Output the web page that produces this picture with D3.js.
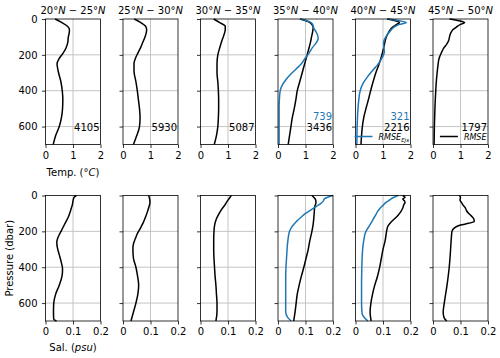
<!DOCTYPE html>
<meta charset="utf-8">
<style>
body { margin:0; background:#fff; }
svg { font-family: "DejaVu Sans", sans-serif; }
.grid line { stroke:#c4c4c4; stroke-width:1px; }
.axis path { display:none; }
.axis line { stroke:#000; stroke-width:0.8px; }
.axis text { font-size:10px; fill:#000; font-family:"DejaVu Sans", sans-serif; }
.frame { fill:none; stroke:#000; stroke-width:0.8px; }
.profile { fill:none; stroke-width:1.5px; stroke-linejoin:round; }
.label { font-size:10px; fill:#000; }
</style>
<body>
<script src="https://d3js.org/d3.v7.min.js"></script>
<script>
// latitude bands (start of each 5 degree band)
var latStart = [20, 25, 30, 35, 40, 45];
var tempTicks = [0, 1, 2];
var salTicks = [0, 0.1, 0.2];
var depthTicks = [0, 200, 400, 600];
var nProfiles = [4105, 5930, 5087, 3436, 2216, 1797];
var nProfilesEjs = [null, null, null, 739, 321, null];

// temperature RMSE profiles, [pressure dbar, RMSE degC]
var tempRmse1 = [[0,0.35],[20,0.6],[40,0.8],[60,0.87],[80,0.86],[100,0.83],[130,0.81],[160,0.75],[190,0.64],[220,0.5],[250,0.42],[290,0.46],[350,0.56],[400,0.61],[450,0.63],[500,0.62],[550,0.58],[600,0.5],[650,0.37],[700,0.28]];
var tempRmse2 = [[0,0.41],[20,0.65],[40,0.82],[60,0.86],[80,0.84],[100,0.8],[130,0.72],[160,0.64],[190,0.54],[220,0.45],[250,0.4],[290,0.4],[350,0.47],[400,0.52],[450,0.56],[500,0.6],[550,0.62],[600,0.6],[650,0.5],[700,0.38]];
var tempRmse3 = [[0,0.48],[20,0.7],[40,0.9],[60,0.9],[90,0.85],[120,0.78],[160,0.7],[200,0.63],[250,0.6],[300,0.6],[350,0.63],[400,0.65],[450,0.66],[500,0.66],[550,0.65],[600,0.63],[650,0.58],[700,0.5]];
var tempRmse4 = [[0,0.8],[15,1.1],[30,1.23],[45,1.28],[70,1.26],[100,1.22],[130,1.18],[160,1.13],[200,1.06],[250,0.97],[300,0.88],[350,0.79],[400,0.7],[450,0.65],[500,0.59],[550,0.52],[600,0.47],[650,0.42],[700,0.37]];
var tempRmse5 = [[0,1.15],[10,1.45],[20,1.6],[30,1.5],[45,1.35],[70,1.22],[100,1.12],[150,1.04],[200,0.96],[250,0.86],[300,0.74],[350,0.64],[400,0.55],[450,0.47],[500,0.38],[550,0.3],[600,0.25],[650,0.22],[700,0.2]];
var tempRmse6 = [[0,0.6],[10,0.95],[20,1.15],[30,1.0],[45,0.85],[60,0.72],[80,0.64],[100,0.6],[120,0.57],[140,0.5],[160,0.4],[190,0.3],[220,0.22],[260,0.18],[300,0.15],[350,0.12],[400,0.1],[500,0.07],[600,0.05],[700,0.04]];
var tempEjs4 = [[0,0.8],[15,1.15],[30,1.26],[50,1.3],[70,1.38],[90,1.44],[110,1.46],[130,1.4],[160,1.25],[190,1.13],[220,0.98],[250,0.85],[280,0.65],[310,0.45],[340,0.28],[370,0.15],[400,0.08],[450,0.05],[500,0.04],[600,0.04],[700,0.04]];
var tempEjs5 = [[0,1.2],[10,1.6],[20,1.85],[30,1.6],[45,1.4],[70,1.25],[100,1.1],[130,1.02],[160,1.03],[180,1.05],[200,1.02],[220,0.95],[240,0.88],[260,0.78],[280,0.66],[300,0.55],[330,0.4],[360,0.27],[400,0.17],[450,0.12],[500,0.09],[600,0.06],[700,0.05]];

// salinity RMSE profiles, [pressure dbar, RMSE psu]
var salRmse1 = [[0,0.112],[10,0.104],[30,0.1],[50,0.098],[70,0.094],[90,0.09],[120,0.083],[150,0.073],[180,0.063],[210,0.053],[240,0.044],[260,0.041],[290,0.043],[330,0.05],[370,0.057],[410,0.062],[450,0.06],[500,0.05],[550,0.037],[600,0.03],[650,0.029],[690,0.03],[700,0.04]];
var salRmse2 = [[0,0.093],[20,0.097],[40,0.098],[60,0.095],[90,0.089],[120,0.082],[150,0.074],[180,0.064],[210,0.053],[240,0.045],[270,0.038],[300,0.036],[350,0.038],[400,0.047],[450,0.053],[500,0.057],[550,0.054],[600,0.047],[650,0.038],[700,0.029]];
var salRmse3 = [[0,0.112],[15,0.105],[30,0.098],[50,0.09],[75,0.078],[100,0.068],[130,0.058],[160,0.052],[200,0.049],[250,0.048],[300,0.048],[350,0.049],[400,0.051],[450,0.053],[500,0.056],[550,0.058],[600,0.06],[650,0.06],[700,0.056]];
var salRmse4 = [[0,0.123],[10,0.13],[25,0.137],[40,0.138],[60,0.134],[90,0.132],[130,0.13],[170,0.127],[210,0.122],[250,0.116],[300,0.11],[350,0.102],[400,0.094],[450,0.085],[500,0.077],[550,0.07],[600,0.066],[650,0.062],[700,0.057]];
var salRmse5 = [[0,0.172],[10,0.18],[20,0.172],[30,0.178],[40,0.18],[50,0.176],[70,0.172],[90,0.165],[110,0.155],[130,0.142],[150,0.128],[170,0.118],[200,0.113],[250,0.108],[300,0.1],[350,0.094],[400,0.088],[450,0.08],[500,0.07],[550,0.062],[600,0.056],[650,0.053],[700,0.057]];
var salRmse6 = [[0,0.095],[10,0.1],[25,0.098],[40,0.104],[55,0.11],[70,0.118],[85,0.122],[100,0.13],[115,0.14],[130,0.148],[145,0.15],[155,0.13],[165,0.1],[180,0.078],[200,0.069],[250,0.066],[300,0.064],[400,0.059],[500,0.051],[600,0.041],[650,0.037],[680,0.04],[700,0.05]];
var salEjs4 = [[0,0.2],[10,0.18],[20,0.168],[30,0.165],[45,0.155],[60,0.14],[80,0.12],[100,0.1],[120,0.085],[140,0.07],[160,0.058],[180,0.048],[200,0.042],[250,0.036],[300,0.033],[350,0.031],[400,0.029],[450,0.028],[500,0.028],[550,0.028],[600,0.028],[650,0.028],[680,0.035],[700,0.048]];
var salEjs5 = [[0,0.155],[10,0.14],[20,0.128],[30,0.12],[40,0.11],[55,0.1],[70,0.09],[90,0.08],[110,0.073],[130,0.065],[150,0.058],[175,0.048],[200,0.038],[250,0.03],[300,0.026],[350,0.024],[400,0.023],[500,0.022],[600,0.022],[660,0.024],[680,0.032],[700,0.045]];

var tempRmse = [tempRmse1, tempRmse2, tempRmse3, tempRmse4, tempRmse5, tempRmse6];
var tempEjs = [null, null, null, tempEjs4, tempEjs5, null];
var salRmse = [salRmse1, salRmse2, salRmse3, salRmse4, salRmse5, salRmse6];
var salEjs = [null, null, null, salEjs4, salEjs5, null];

var blue = "#1f77b4";

// panel geometry
var panelW = 55, panelH = 125.5;
var panelX0 = 45.5, panelStep = 77.5;
var rowTop = [19, 195.5];

var svg = d3.select("body").append("svg")
    .attr("width", 500)
    .attr("height", 358);

var y = d3.scaleLinear().domain([0, 700]).range([0, panelH]);

var rows = [
  {ticks: tempTicks, domain: [0, 2], rmse: tempRmse, ejs: tempEjs,
   fmt: function(d) { return d3.format("d")(d); }},
  {ticks: salTicks, domain: [0, 0.2], rmse: salRmse, ejs: salEjs,
   fmt: function(d) { return d === 0 ? "0" : d3.format(".1f")(d); }}
];

rows.forEach(function(row, r) {
  latStart.forEach(function(lat, i) {
    var g = svg.append("g")
        .attr("transform", "translate(" + (panelX0 + i * panelStep) + "," + rowTop[r] + ")");

    var x = d3.scaleLinear().domain(row.domain).range([0, panelW]);

    // grid
    var grid = g.append("g").attr("class", "grid");
    grid.selectAll(".gx")
        .data(row.ticks.slice(1, 2))
        .enter().append("line")
        .attr("x1", function(d) { return x(d); })
        .attr("x2", function(d) { return x(d); })
        .attr("y1", 0).attr("y2", panelH);
    grid.selectAll(".gy")
        .data(depthTicks.slice(1))
        .enter().append("line")
        .attr("x1", 0).attr("x2", panelW)
        .attr("y1", function(d) { return y(d); })
        .attr("y2", function(d) { return y(d); });

    var line = d3.line()
        .x(function(d) { return x(d[1]); })
        .y(function(d) { return y(d[0]); })
        .curve(d3.curveMonotoneY);

    g.append("path")
        .attr("class", "profile")
        .attr("stroke", "#000")
        .attr("d", line(row.rmse[i]));

    if (row.ejs[i]) {
      g.append("path")
          .attr("class", "profile")
          .attr("stroke", blue)
          .attr("d", line(row.ejs[i]));
    }

    // axes
    g.append("g")
        .attr("class", "axis")
        .attr("transform", "translate(0," + panelH + ")")
        .call(d3.axisBottom(x).tickValues(row.ticks).tickSize(3.5).tickPadding(3.5).tickFormat(row.fmt));

    g.append("g")
        .attr("class", "axis")
        .call(d3.axisLeft(y).tickValues(depthTicks).tickSize(3.5).tickPadding(4.5)
          .tickFormat(i === 0 ? d3.format("d") : ""));

    g.append("rect")
        .attr("class", "frame")
        .attr("width", panelW)
        .attr("height", panelH);

    if (r === 0) {
      // title
      var t = g.append("text")
          .attr("class", "label")
          .attr("x", panelW / 2)
          .attr("y", -5)
          .attr("text-anchor", "middle");
      t.append("tspan").text(lat + "°");
      t.append("tspan").attr("font-style", "italic").text("N");
      t.append("tspan").text(" − " + (lat + 5) + "°");
      t.append("tspan").attr("font-style", "italic").text("N");

      // number of profiles
      g.append("text")
          .attr("class", "label")
          .attr("x", panelW - 1)
          .attr("y", 111.5)
          .attr("text-anchor", "end")
          .text(nProfiles[i]);
      if (nProfilesEjs[i] !== null) {
        g.append("text")
            .attr("class", "label")
            .attr("x", panelW - 1)
            .attr("y", 100.5)
            .attr("text-anchor", "end")
            .attr("fill", blue)
            .style("fill", blue)
            .text(nProfilesEjs[i]);
      }
    }
  });
});

// legends in the last two temperature panels
function addLegend(col, color, sub) {
  var g = svg.append("g")
      .attr("transform", "translate(" + (panelX0 + col * panelStep) + "," + rowTop[0] + ")");
  var txt = g.append("text")
      .attr("x", panelW - 1.5)
      .attr("y", 120.5)
      .attr("text-anchor", "end")
      .attr("font-size", "8px")
      .attr("font-style", "italic")
      .attr("fill", "#000");
  txt.append("tspan").text("RMSE");
  if (sub) {
    txt.append("tspan").attr("font-size", "5.5px").attr("dy", 2).text(sub);
  }
  var bb = txt.node().getBBox();
  g.append("line")
      .attr("x1", bb.x - 24).attr("x2", bb.x - 6)
      .attr("y1", 117.5).attr("y2", 117.5)
      .attr("stroke", color)
      .attr("stroke-width", 1.5);
}
addLegend(4, blue, "Ejs");
addLegend(5, "#000", null);

// axis labels
var tl = svg.append("text")
    .attr("class", "label")
    .attr("x", panelX0 + panelW / 2)
    .attr("y", 175.5)
    .attr("text-anchor", "middle");
tl.append("tspan").text("Temp. (°");
tl.append("tspan").attr("font-style", "italic").text("C");
tl.append("tspan").text(")");

var sl = svg.append("text")
    .attr("class", "label")
    .attr("x", panelX0 + panelW / 2)
    .attr("y", 350.5)
    .attr("text-anchor", "middle");
sl.append("tspan").text("Sal. (");
sl.append("tspan").attr("font-style", "italic").text("psu");
sl.append("tspan").text(")");

svg.append("text")
    .attr("class", "label")
    .attr("transform", "translate(13," + (rowTop[1] + panelH / 2) + ") rotate(-90)")
    .attr("text-anchor", "middle")
    .text("Pressure (dbar)");
</script>
</body>
